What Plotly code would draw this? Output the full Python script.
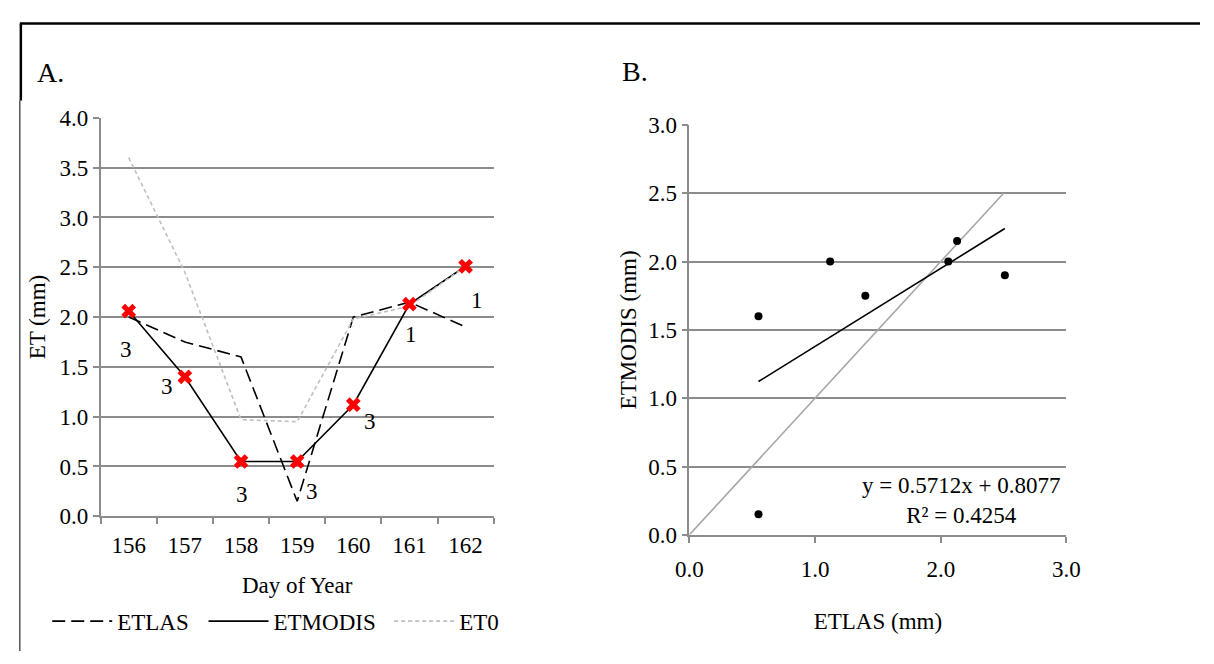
import plotly.graph_objects as go

W, H = 1214, 664

# ---------------- data ----------------
days = ["156", "157", "158", "159", "160", "161", "162"]
et_las = [2.00, 1.75, 1.60, 0.15, 2.00, 2.15, 1.90]
et_modis = [2.06, 1.40, 0.55, 0.55, 1.12, 2.13, 2.51]
et0 = [3.60, 2.45, 0.97, 0.95, 1.98, 2.11, 2.51]
point_labels = ["3", "3", "3", "3", "3", "1", "1"]

# scatter panel (as drawn)
scatter_x = [2.06, 1.40, 0.55, 0.55, 1.12, 2.13, 2.51]
scatter_y = [2.00, 1.75, 1.60, 0.15, 2.00, 2.15, 1.90]
slope, intercept, r2 = 0.5712, 0.8077, 0.4254
one_to_one = [0.0, 2.5]

# label offsets (style, px)
label_dx = [-3, -18, 1, 15, 17, 2, 11]
label_dy = [38, 10, 33, 30, 17, 30, 34]

FONT = "Liberation Serif"
FS = 23
GRID = "#8c8c8c"


def px_x(p):
    return p / W


def px_y(p):
    return 1 - p / H


fig = go.Figure()

# ---------------- panel A ----------------
fig.add_trace(go.Scatter(x=days, y=et_las, mode="lines", name="ETLAS",
                         line=dict(color="black", width=1.6, dash="13px,6px"),
                         xaxis="x", yaxis="y", legend="legend"))
fig.add_trace(go.Scatter(x=days, y=et_modis, mode="lines", name="ETMODIS",
                         line=dict(color="black", width=1.6),
                         xaxis="x", yaxis="y", legend="legend2"))
fig.add_trace(go.Scatter(x=days, y=et0, mode="lines", name="ET0",
                         line=dict(color="#bfbfbf", width=1.6, dash="4px,3px"),
                         xaxis="x", yaxis="y", legend="legend3"))
fig.add_trace(go.Scatter(x=days, y=et_modis, mode="markers", showlegend=False,
                         marker=dict(symbol="x", size=13, color="#ff0000",
                                     line=dict(width=0)),
                         xaxis="x", yaxis="y"))

# ---------------- panel B ----------------
fig.add_trace(go.Scatter(x=one_to_one, y=one_to_one, mode="lines", showlegend=False,
                         line=dict(color="#a6a6a6", width=1.6),
                         xaxis="x2", yaxis="y2"))
tx = [min(scatter_x), max(scatter_x)]
ty = [slope * v + intercept for v in tx]
fig.add_trace(go.Scatter(x=tx, y=ty, mode="lines", showlegend=False,
                         line=dict(color="black", width=1.6),
                         xaxis="x2", yaxis="y2"))
fig.add_trace(go.Scatter(x=scatter_x, y=scatter_y, mode="markers", showlegend=False,
                         marker=dict(symbol="circle", size=8, color="black"),
                         xaxis="x2", yaxis="y2"))

annotations = []
for i, (v, t, dx, dy) in enumerate(zip(et_modis, point_labels, label_dx, label_dy)):
    annotations.append(dict(x=i, y=v, xref="x", yref="y", text=t, showarrow=False,
                            xshift=dx, yshift=-dy,
                            font=dict(family=FONT, size=FS, color="black")))

annotations.append(dict(x=2.16, y=0.25, xref="x2", yref="y2",
                        text=f"y = {slope}x + {intercept}<br>R² = {r2}",
                        showarrow=False, align="center",
                        font=dict(family=FONT, size=FS, color="black")))
annotations.append(dict(x=px_x(22), y=px_y(63), xref="paper", yref="paper",
                        text="A.", showarrow=False, xanchor="left", yanchor="middle",
                        font=dict(family=FONT, size=28, color="black")))
annotations.append(dict(x=px_x(620), y=px_y(62), xref="paper", yref="paper",
                        text="B.", showarrow=False, xanchor="left", yanchor="middle",
                        font=dict(family=FONT, size=28, color="black")))

shapes = [
    dict(type="line", xref="paper", yref="paper", x0=px_x(6), x1=1, y0=px_y(12), y1=px_y(12),
         line=dict(color="black", width=2.5)),
    dict(type="line", xref="paper", yref="paper", x0=px_x(7), x1=px_x(7), y0=px_y(12), y1=px_y(92),
         line=dict(color="black", width=2.5)),
    dict(type="line", xref="paper", yref="paper", x0=px_x(6), x1=px_x(6), y0=px_y(92), y1=0,
         line=dict(color="black", width=1)),
]

tickfont = dict(family=FONT, size=FS, color="black")
axis_common = dict(showline=True, linecolor=GRID, linewidth=1.5, ticks="outside",
                   ticklen=6, tickcolor=GRID, tickwidth=1.5, tickfont=tickfont,
                   zeroline=False)

legend_common = dict(orientation="h", yanchor="middle", y=px_y(633), xanchor="left",
                     font=dict(family=FONT, size=FS, color="black"),
                     bgcolor="rgba(0,0,0,0)", itemwidth=60, tracegroupgap=0)

fig.update_layout(
    width=W, height=H,
    margin=dict(l=0, r=0, t=0, b=0),
    paper_bgcolor="white", plot_bgcolor="white",
    font=dict(family=FONT, size=FS, color="black"),
    xaxis=dict(domain=[px_x(88.7), px_x(491)], type="category", range=[-0.5, 6.5],
               tickson="boundaries", showgrid=False, anchor="y",
               ticklabelstandoff=7,
               title=dict(text="Day of Year", font=dict(family=FONT, size=FS), standoff=20),
               **axis_common),
    yaxis=dict(domain=[px_y(524), px_y(110)], range=[0, 4], dtick=0.5, tickformat=".1f",
               showgrid=True, gridcolor=GRID, gridwidth=1.5, anchor="x",
               title=dict(text="ET (mm)", font=dict(family=FONT, size=FS), standoff=8),
               **axis_common),
    xaxis2=dict(domain=[px_x(691.3), px_x(1077.3)], range=[0, 3], dtick=1, tickformat=".1f",
                showgrid=False, anchor="y2", ticklabelstandoff=7,
                title=dict(text="ETLAS (mm)", font=dict(family=FONT, size=FS), standoff=32),
                **axis_common),
    yaxis2=dict(domain=[px_y(543.3), px_y(117.3)], range=[0, 3], dtick=0.5, tickformat=".1f",
                showgrid=True, gridcolor=GRID, gridwidth=1.5, anchor="x2",
                title=dict(text="ETMODIS (mm)", font=dict(family=FONT, size=FS), standoff=5),
                **axis_common),
    legend=dict(x=px_x(34), **legend_common),
    legend2=dict(x=px_x(194), **legend_common),
    legend3=dict(x=px_x(384), **legend_common),
    annotations=annotations,
    shapes=shapes,
)

fig.write_html("out.html",
               post_script="document.body.style.margin='0';document.body.style.overflow='hidden';")
